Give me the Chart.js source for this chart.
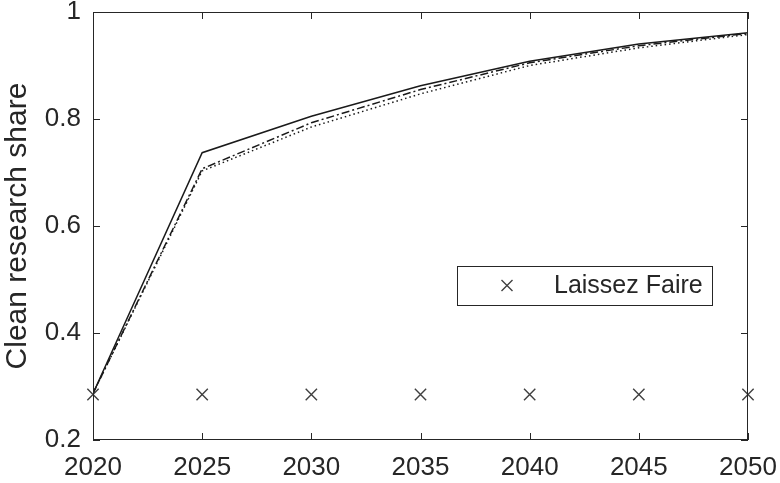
<!DOCTYPE html>
<html>
<head>
<meta charset="utf-8">
<script src="https://cdn.jsdelivr.net/npm/chart.js@4"></script>
<style>
  html, body { margin: 0; padding: 0; background: #fff; }
  #wrap { width: 780px; height: 483px; }
</style>
</head>
<body>
<div id="wrap"><canvas id="share-chart"></canvas></div>
<script>
// data
const years = [2020, 2025, 2030, 2035, 2040, 2045, 2050];
const solidShare = [0.287, 0.737, 0.805, 0.862, 0.908, 0.940, 0.961];
const dashDotShare = [0.287, 0.707, 0.793, 0.855, 0.905, 0.937, 0.960];
const dottedShare = [0.287, 0.703, 0.785, 0.847, 0.900, 0.933, 0.958];
const laissezFaire = [0.285, 0.285, 0.285, 0.285, 0.285, 0.285, 0.285];
const yTicks = [0.2, 0.4, 0.6, 0.8, 1];
const legendLabel = 'Laissez Faire';

const AXIS = '#262626';
const FONT = "'Liberation Sans', Arial, sans-serif";

function toPoints(values) {
  return years.map((y, i) => ({ x: y, y: values[i] }));
}

// stop chart.js from adding room for overflowing labels, we size it ourselves
function noOverflow(s) {
  s.paddingLeft = 0; s.paddingRight = 0; s.paddingTop = 0; s.paddingBottom = 0;
}

// box around the axes with inward ticks, matlab style
const boxPlugin = {
  id: 'boxAxes',
  afterDatasetsDraw(chart) {
    const { ctx, chartArea: a, scales } = chart;
    ctx.save();
    ctx.strokeStyle = AXIS;
    ctx.lineWidth = 1;
    ctx.strokeRect(a.left + 0.5, a.top + 0.5, a.right - a.left - 1, a.bottom - a.top - 1);
    const t = 7;
    ctx.beginPath();
    years.forEach(v => {
      const px = Math.round(scales.x.getPixelForValue(v)) + 0.5;
      ctx.moveTo(px, a.bottom); ctx.lineTo(px, a.bottom - t);
      ctx.moveTo(px, a.top); ctx.lineTo(px, a.top + t);
    });
    yTicks.forEach(v => {
      const py = Math.round(scales.y.getPixelForValue(v)) + 0.5;
      ctx.moveTo(a.left, py); ctx.lineTo(a.left + t, py);
      ctx.moveTo(a.right, py); ctx.lineTo(a.right - t, py);
    });
    ctx.stroke();

    // legend box
    const bx = a.right - 291, by = a.top + 254, bw = 255, bh = 39;
    ctx.fillStyle = '#fff';
    ctx.fillRect(bx, by, bw, bh);
    ctx.strokeStyle = AXIS;
    ctx.strokeRect(bx + 0.5, by + 0.5, bw, bh);
    const mx = bx + 50, my = by + bh / 2, r = 5.5;
    ctx.strokeStyle = '#404040';
    ctx.lineWidth = 1.4;
    ctx.beginPath();
    ctx.moveTo(mx - r, my - r); ctx.lineTo(mx + r, my + r);
    ctx.moveTo(mx - r, my + r); ctx.lineTo(mx + r, my - r);
    ctx.stroke();
    ctx.fillStyle = AXIS;
    ctx.font = '25px ' + FONT;
    ctx.textBaseline = 'middle';
    ctx.textAlign = 'left';
    ctx.fillText(legendLabel, bx + 97, my + 1);
    ctx.restore();
  }
};

function renderChart() {
  const ctx = document.getElementById('share-chart').getContext('2d');
  new Chart(ctx, {
    type: 'line',
    data: {
      datasets: [
        {
          label: 'solid',
          data: toPoints(solidShare),
          borderColor: '#1a1a1a', borderWidth: 1.5,
          pointRadius: 0, tension: 0
        },
        {
          label: 'dash-dot',
          data: toPoints(dashDotShare),
          borderColor: '#1a1a1a', borderWidth: 1.5, borderDash: [8, 3, 2, 3],
          pointRadius: 0, tension: 0
        },
        {
          label: 'dotted',
          data: toPoints(dottedShare),
          borderColor: '#1a1a1a', borderWidth: 1.5, borderDash: [1.5, 3],
          pointRadius: 0, tension: 0
        },
        {
          label: legendLabel,
          data: toPoints(laissezFaire),
          showLine: false,
          pointStyle: 'crossRot', pointRadius: 8,
          pointBorderColor: '#404040', pointBorderWidth: 1.4,
          clip: false
        }
      ]
    },
    options: {
      responsive: true,
      maintainAspectRatio: false,
      animation: false,
      layout: { padding: { top: 12, right: 32, left: 0, bottom: 0 } },
      plugins: { legend: { display: false }, tooltip: { enabled: false } },
      scales: {
        x: {
          type: 'linear', min: 2020, max: 2050,
          border: { display: false },
          grid: { display: false, drawTicks: false },
          afterBuildTicks: s => { s.ticks = years.map(v => ({ value: v })); },
          afterFit: s => { s.height = 43; noOverflow(s); },
          ticks: {
            padding: 12, color: AXIS, maxRotation: 0,
            font: { family: FONT, size: 26 },
            callback: v => String(v)
          }
        },
        y: {
          min: 0.2, max: 1,
          border: { display: false },
          grid: { display: false, drawTicks: false },
          afterBuildTicks: s => { s.ticks = yTicks.map(v => ({ value: v })); },
          afterFit: s => { s.width = 93; noOverflow(s); },
          ticks: {
            padding: 12, color: AXIS,
            font: { family: FONT, size: 26 },
            callback: v => String(v)
          },
          title: {
            display: true, text: 'Clean research share', color: AXIS,
            font: { family: FONT, size: 30 },
            padding: { top: 0, bottom: 0 }
          }
        }
      }
    },
    plugins: [boxPlugin]
  });
}

document.addEventListener('DOMContentLoaded', renderChart);
</script>
</body>
</html>
